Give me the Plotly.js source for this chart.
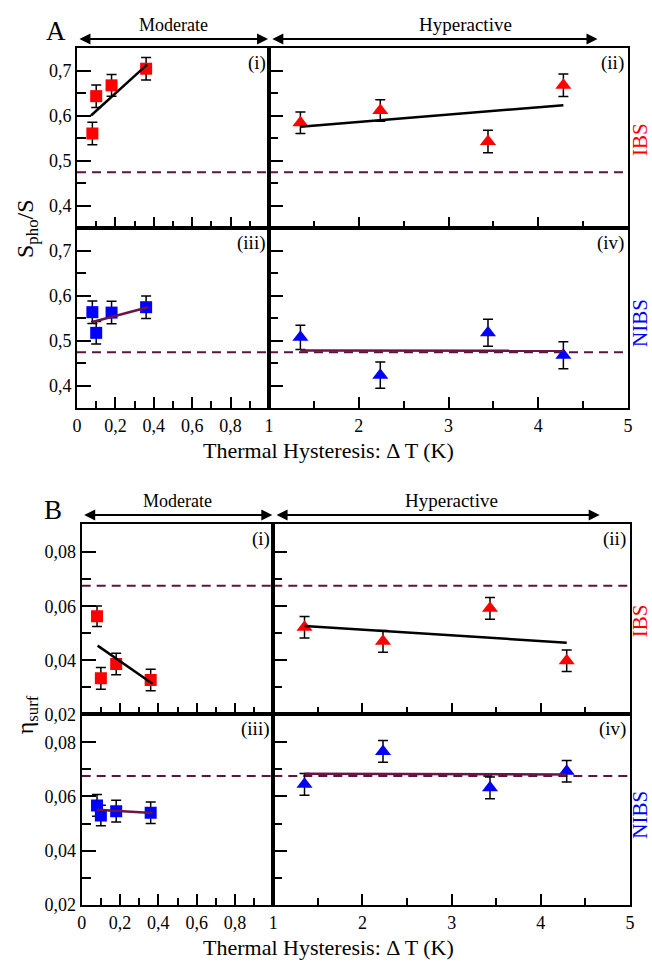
<!DOCTYPE html>
<html>
<head>
<meta charset="utf-8">
<script src="https://cdn.plot.ly/plotly-3.0.1.min.js"></script>
<style>html,body{margin:0;padding:0;background:#fff}#chart{width:652px;height:962px}</style>
</head>
<body>
<div id="chart"></div>
<script>
// ---------- Data ----------
// Panel A: S_pho/S
const A_ibs_mod_x   = [0.08, 0.10, 0.18, 0.36];
const A_ibs_mod_y   = [0.560, 0.643, 0.667, 0.704];
const A_ibs_mod_err = [0.025, 0.025, 0.024, 0.025];
const A_ibs_mod_fitx = [0.073, 0.365];
const A_ibs_mod_fity = [0.600, 0.713];

const A_ibs_hyp_x   = [1.35, 2.24, 3.44, 4.28];
const A_ibs_hyp_y   = [0.584, 0.611, 0.542, 0.667];
const A_ibs_hyp_err = [0.024, 0.024, 0.025, 0.025];
const A_ibs_hyp_fitx = [1.35, 4.28];
const A_ibs_hyp_fity = [0.575, 0.623];

const A_nibs_mod_x   = [0.08, 0.10, 0.18, 0.36];
const A_nibs_mod_y   = [0.563, 0.517, 0.562, 0.574];
const A_nibs_mod_err = [0.025, 0.025, 0.025, 0.025];
const A_nibs_mod_fitx = [0.08, 0.37];
const A_nibs_mod_fity = [0.541, 0.574];

const A_nibs_hyp_x   = [1.35, 2.24, 3.44, 4.28];
const A_nibs_hyp_y   = [0.507, 0.423, 0.517, 0.467];
const A_nibs_hyp_err = [0.027, 0.029, 0.030, 0.030];
const A_nibs_hyp_fitx = [1.35, 4.28];
const A_nibs_hyp_fity = [0.478, 0.477];

const A_baseline = 0.474;

// Panel B: eta_surf
const B_ibs_mod_x   = [0.08, 0.10, 0.18, 0.36];
const B_ibs_mod_y   = [0.0563, 0.0333, 0.0386, 0.0327];
const B_ibs_mod_err = [0.0038, 0.0040, 0.0040, 0.0040];
const B_ibs_mod_fitx = [0.083, 0.37];
const B_ibs_mod_fity = [0.0454, 0.0313];

const B_ibs_hyp_x   = [1.35, 2.23, 3.43, 4.29];
const B_ibs_hyp_y   = [0.0522, 0.0470, 0.0592, 0.0398];
const B_ibs_hyp_err = [0.0040, 0.0040, 0.0040, 0.0040];
const B_ibs_hyp_fitx = [1.35, 4.29];
const B_ibs_hyp_fity = [0.0527, 0.0465];

const B_nibs_mod_x   = [0.08, 0.10, 0.18, 0.36];
const B_nibs_mod_y   = [0.0567, 0.0530, 0.0546, 0.0540];
const B_nibs_mod_err = [0.0040, 0.0038, 0.0040, 0.0040];
const B_nibs_mod_fitx = [0.08, 0.37];
const B_nibs_mod_fity = [0.0551, 0.0539];

const B_nibs_hyp_x   = [1.35, 2.23, 3.43, 4.29];
const B_nibs_hyp_y   = [0.0645, 0.0766, 0.0632, 0.0693];
const B_nibs_hyp_err = [0.0040, 0.0040, 0.0040, 0.0040];
const B_nibs_hyp_fitx = [1.35, 4.29];
const B_nibs_hyp_fity = [0.0684, 0.0681];

const B_baseline = 0.0676;

const subplotLabels = ["(i)", "(ii)", "(iii)", "(iv)"];

// ---------- Styling ----------
const RED = "#ff0000", BLUE = "#0000ff", PURPLE = "#6b1545", DASH = "#5e1440";
const FONT = "Liberation Serif";
const W = 652, H = 962;
const px = v => v / W;
const py = v => 1 - v / H;

const traces = [];
function addSet(xa, ya, x, y, err, sym, color, fx, fy, fitColor) {
  traces.push({
    x: x, y: y, xaxis: xa, yaxis: ya, type: "scatter", mode: "markers",
    marker: {symbol: sym, size: sym === "square" ? 12 : 14, color: color, line: {width: 0}},
    error_y: {type: "data", array: err, visible: true, color: "#000", thickness: 1.5, width: 5},
    showlegend: false, hoverinfo: "x+y"
  });
  traces.push({
    x: fx, y: fy, xaxis: xa, yaxis: ya, type: "scatter", mode: "lines",
    line: {color: fitColor, width: 2.5}, showlegend: false
  });
}

addSet("x",  "y",  A_ibs_mod_x,  A_ibs_mod_y,  A_ibs_mod_err,  "square", RED,  A_ibs_mod_fitx,  A_ibs_mod_fity,  "#000");
addSet("x2", "y2", A_ibs_hyp_x,  A_ibs_hyp_y,  A_ibs_hyp_err,  "triangle-up", RED, A_ibs_hyp_fitx, A_ibs_hyp_fity, "#000");
addSet("x3", "y3", A_nibs_mod_x, A_nibs_mod_y, A_nibs_mod_err, "square", BLUE, A_nibs_mod_fitx, A_nibs_mod_fity, PURPLE);
addSet("x4", "y4", A_nibs_hyp_x, A_nibs_hyp_y, A_nibs_hyp_err, "triangle-up", BLUE, A_nibs_hyp_fitx, A_nibs_hyp_fity, PURPLE);
addSet("x5", "y5", B_ibs_mod_x,  B_ibs_mod_y,  B_ibs_mod_err,  "square", RED,  B_ibs_mod_fitx,  B_ibs_mod_fity,  "#000");
addSet("x6", "y6", B_ibs_hyp_x,  B_ibs_hyp_y,  B_ibs_hyp_err,  "triangle-up", RED, B_ibs_hyp_fitx, B_ibs_hyp_fity, "#000");
addSet("x7", "y7", B_nibs_mod_x, B_nibs_mod_y, B_nibs_mod_err, "square", BLUE, B_nibs_mod_fitx, B_nibs_mod_fity, PURPLE);
addSet("x8", "y8", B_nibs_hyp_x, B_nibs_hyp_y, B_nibs_hyp_err, "triangle-up", BLUE, B_nibs_hyp_fitx, B_nibs_hyp_fity, PURPLE);

// ---------- Geometry (pixels) ----------
const geo = {
  A: {l: 77, m: 269, r: 628, t: 48, mid: 228, b: 408, yr: [0.35, 0.75], ydt: 0.1, ymin: 0.05},
  B: {l: 81.7, m: 273.3, r: 630, t: 524.3, mid: 714.3, b: 905, yr: [0.02, 0.0903], ydt: 0.02, ymin: 0.01}
};

const layout = {
  width: W, height: H,
  margin: {l: 0, r: 0, t: 0, b: 0},
  paper_bgcolor: "#fff", plot_bgcolor: "#fff",
  separators: ", ",
  font: {family: FONT, size: 18, color: "#000"},
  showlegend: false,
  annotations: [], shapes: []
};

function xAxisDef(dom, left, bottomRow, anchor) {
  const a = {
    domain: dom, anchor: anchor, showline: true, mirror: true, linecolor: "#000", linewidth: 2,
    showgrid: false, zeroline: false, ticks: "inside", tickcolor: "#000", tickwidth: 2,
    tickfont: {family: FONT, size: 18, color: "#000"},
    showticklabels: bottomRow, fixedrange: true
  };
  if (left) {
    a.range = [0, 1]; a.tickmode = "array";
    a.tickvals = [0, 0.2, 0.4, 0.6, 0.8]; a.ticklen = 11;
    a.minor = {tickmode: "array", tickvals: [0.1, 0.3, 0.5, 0.7, 0.9], ticklen: 7, ticks: "inside", tickcolor: "#000", tickwidth: 2};
  } else {
    a.range = [1, 5]; a.tickmode = "linear"; a.tick0 = 1; a.dtick = 1; a.ticklen = 11;
    a.minor = {tick0: 1.5, dtick: 1, ticklen: 7, ticks: "inside", tickcolor: "#000", tickwidth: 2};
  }
  return a;
}
function yAxisDef(dom, g, left, anchor) {
  return {
    domain: dom, anchor: anchor, range: g.yr, showline: true, mirror: true, linecolor: "#000", linewidth: 2,
    showgrid: false, zeroline: false, ticks: "inside", ticklen: 14, tickcolor: "#000", tickwidth: 2,
    tickmode: "linear", tick0: 0, dtick: g.ydt,
    minor: {tick0: 0, dtick: g.ymin, ticklen: 9, ticks: "inside", tickcolor: "#000", tickwidth: 2},
    tickfont: {family: FONT, size: 18, color: "#000"},
    showticklabels: left, fixedrange: true
  };
}

const panels = [["A", 1], ["B", 5]];
panels.forEach(([P, base]) => {
  const g = geo[P];
  const xl = [px(g.l), px(g.m)], xr = [px(g.m), px(g.r)];
  const yt = [py(g.mid), py(g.t)], yb = [py(g.b), py(g.mid)];
  const ids = [base, base + 1, base + 2, base + 3];
  const doms = [[xl, yt, true, false], [xr, yt, false, false], [xl, yb, true, true], [xr, yb, false, true]];
  ids.forEach((n, k) => {
    const sx = n === 1 ? "" : String(n);
    const [xd, yd, left, bottom] = doms[k];
    layout["xaxis" + sx] = xAxisDef(xd, left, bottom, "y" + sx);
    layout["yaxis" + sx] = yAxisDef(yd, g, left, "x" + sx);
    layout.shapes.push({
      type: "line", xref: "x" + sx + " domain", yref: "y" + sx, x0: 0, x1: 1,
      y0: P === "A" ? A_baseline : B_baseline, y1: P === "A" ? A_baseline : B_baseline,
      line: {color: DASH, width: 2, dash: "9px,6px"}, layer: "below"
    });
    layout.annotations.push({
      xref: "x" + sx + " domain", yref: "y" + sx + " domain", x: 0.995, y: 0.99,
      xanchor: "right", yanchor: "top", showarrow: false, text: subplotLabels[k],
      font: {family: FONT, size: 19, color: "#000"}
    });
  });
  const s0 = base === 1 ? "" : String(base);
  const s1 = String(base + 1);
  const arrowY = P === "A" ? 39 : 515;
  layout.annotations.push({
    xref: "x" + s0, yref: "paper", x: 0.995, y: py(arrowY), axref: "x" + s0, ayref: "pixel",
    ax: 0.005, ay: 0, showarrow: true, arrowside: "end+start", arrowhead: 2, arrowsize: 1.1,
    arrowwidth: 2, arrowcolor: "#000", text: "", standoff: 0, startstandoff: 0
  });
  layout.annotations.push({
    xref: "paper", yref: "paper", x: px((g.l + g.m) / 2), y: py(arrowY - 14),
    xanchor: "center", yanchor: "middle", showarrow: false, text: "Moderate",
    font: {family: FONT, size: 18, color: "#000"}
  });
  layout.annotations.push({
    xref: "x" + s1, yref: "paper", x: 4.66, y: py(arrowY), axref: "x" + s1, ayref: "pixel",
    ax: 1.02, ay: 0, showarrow: true, arrowside: "end+start", arrowhead: 2, arrowsize: 1.1,
    arrowwidth: 2, arrowcolor: "#000", text: "", standoff: 0, startstandoff: 0
  });
  layout.annotations.push({
    xref: "paper", yref: "paper", x: px(P === "A" ? 465 : 451), y: py(arrowY - 15),
    xanchor: "center", yanchor: "middle", showarrow: false, text: "Hyperactive",
    font: {family: FONT, size: 19, color: "#000"}
  });
  layout.annotations.push({
    xref: "paper", yref: "paper", x: px(P === "A" ? 56 : 53), y: py(P === "A" ? 31 : 510),
    xanchor: "center", yanchor: "middle", showarrow: false, text: P,
    font: {family: FONT, size: 27, color: "#000"}
  });
  layout.annotations.push({
    xref: "paper", yref: "paper", x: px(328), y: py(P === "A" ? 451 : 947),
    xanchor: "center", yanchor: "middle", showarrow: false, text: "Thermal Hysteresis: \u0394 T (K)",
    font: {family: FONT, size: 22, color: "#000"}
  });
  layout.annotations.push({
    xref: "paper", yref: "paper", x: px(27), y: py(g.mid),
    xanchor: "center", yanchor: "middle", showarrow: false, textangle: -90,
    text: P === "A" ? "S<sub>pho</sub>/S" : "\u03b7<sub>surf</sub>",
    font: {family: FONT, size: 24, color: "#000"}
  });
  layout.annotations.push({
    xref: "paper", yref: "paper", x: px(640), y: py((g.t + g.mid) / 2 + 2),
    xanchor: "center", yanchor: "middle", showarrow: false, textangle: -90, text: "IBS",
    font: {family: FONT, size: 21, color: RED}
  });
  layout.annotations.push({
    xref: "paper", yref: "paper", x: px(640), y: py((g.mid + g.b) / 2 + 5),
    xanchor: "center", yanchor: "middle", showarrow: false, textangle: -90, text: "NIBS",
    font: {family: FONT, size: 21, color: BLUE}
  });
});

Plotly.newPlot("chart", traces, layout, {staticPlot: true, displayModeBar: false});
</script>
</body>
</html>
